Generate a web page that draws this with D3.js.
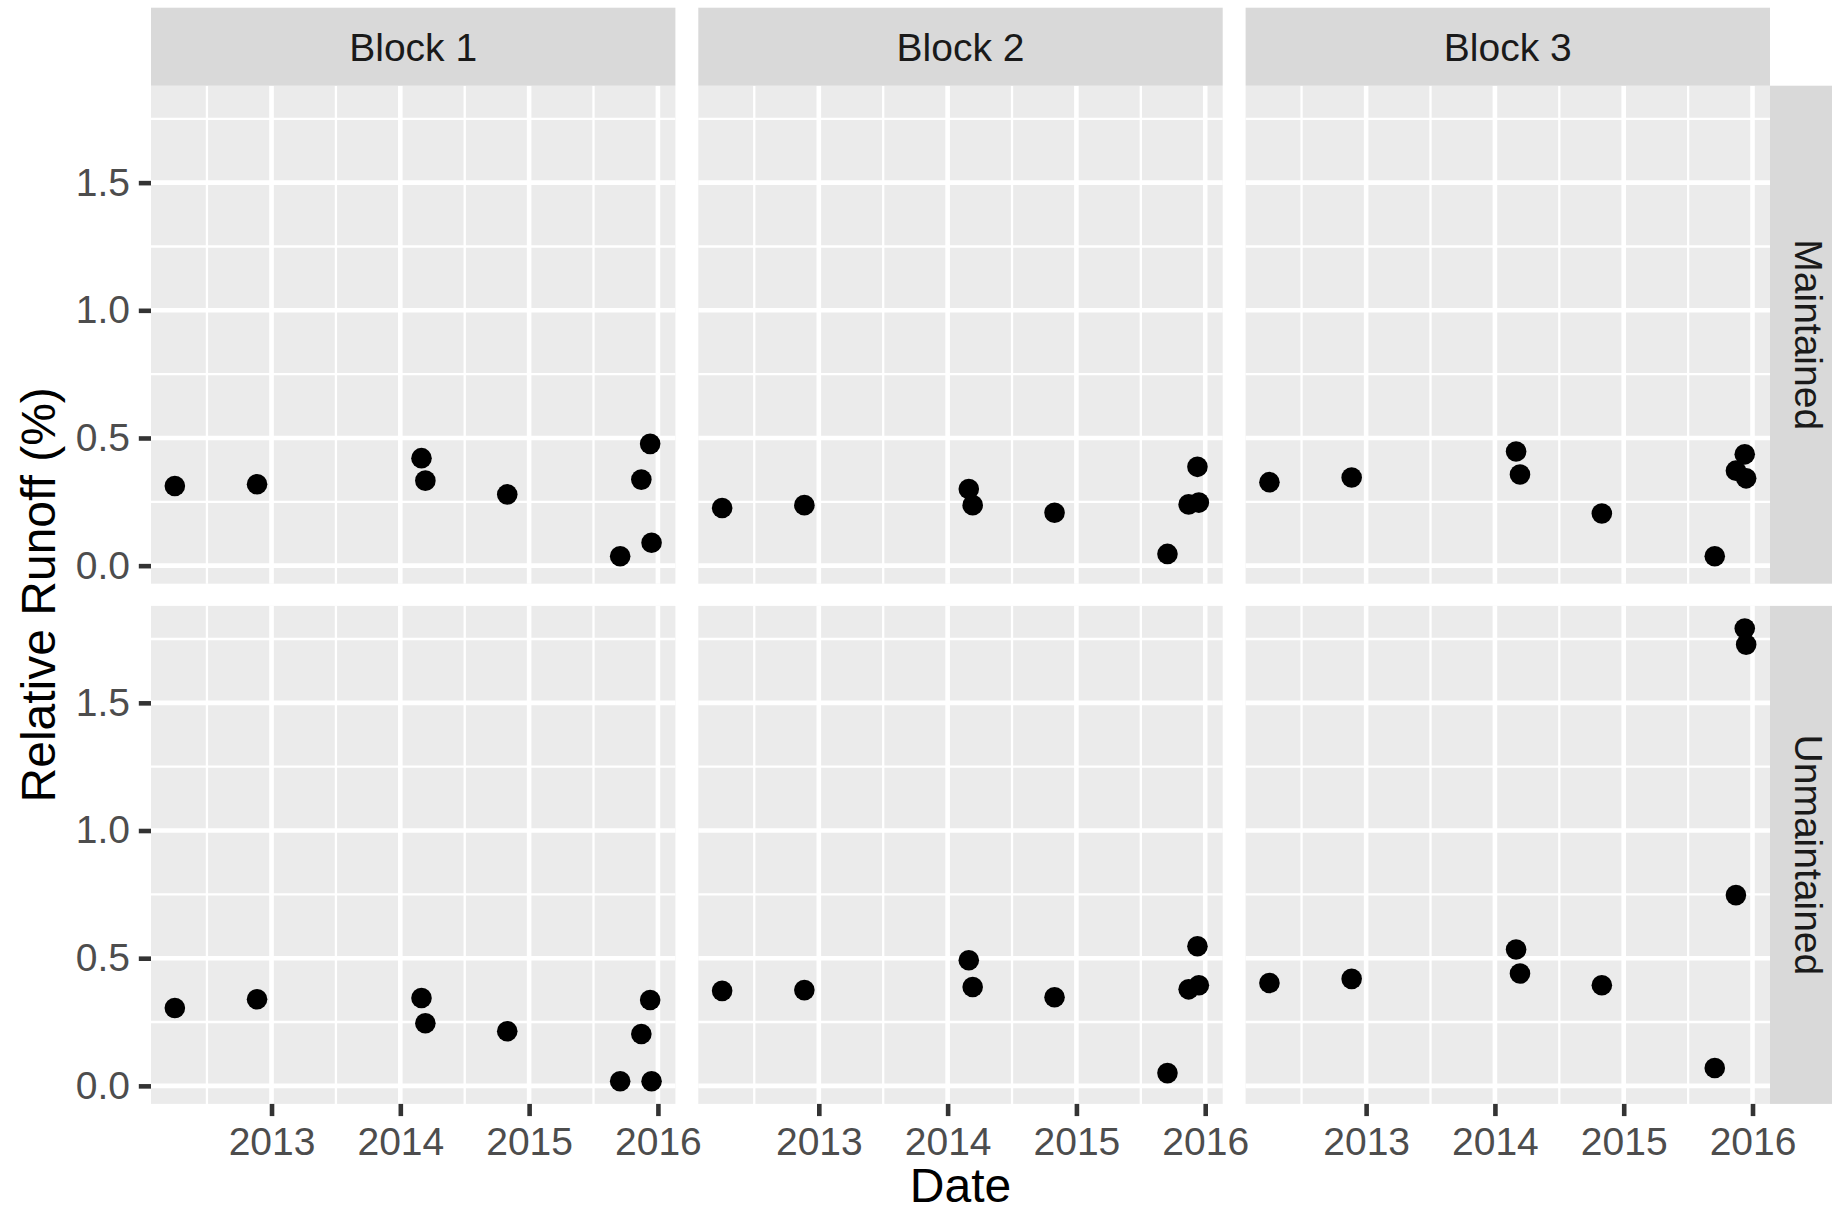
<!DOCTYPE html>
<html>
<head>
<meta charset="utf-8">
<script src="https://cdn.jsdelivr.net/npm/d3@7"></script>
<style>
  html, body { margin: 0; padding: 0; background: #ffffff; }
  svg { display: block; font-family: "Liberation Sans", Arial, Helvetica, sans-serif; }
</style>
</head>
<body>
<svg id="chart" width="1832" height="1213"></svg>
<script>
// Sampling dates shared by every panel
const sampleDates = ["2012-04-02", "2012-11-21", "2014-03-02", "2014-03-13", "2014-10-31",
                     "2015-09-16", "2015-11-15", "2015-12-10", "2015-12-14"];

// Facet labels
const blocks = ["Block 1", "Block 2", "Block 3"];
const treatments = ["Maintained", "Unmaintained"];

// Relative runoff (%) per block and treatment, one value per sampling date
const maintainedBlock1   = [0.312, 0.319, 0.421, 0.333, 0.279, 0.037, 0.337, 0.477, 0.090];
const maintainedBlock2   = [0.226, 0.237, 0.300, 0.237, 0.207, 0.046, 0.240, 0.387, 0.247];
const maintainedBlock3   = [0.327, 0.345, 0.447, 0.357, 0.204, 0.037, 0.372, 0.436, 0.342];
const unmaintainedBlock1 = [0.305, 0.339, 0.344, 0.245, 0.214, 0.018, 0.203, 0.336, 0.018];
const unmaintainedBlock2 = [0.372, 0.375, 0.492, 0.387, 0.347, 0.050, 0.378, 0.547, 0.394];
const unmaintainedBlock3 = [0.403, 0.419, 0.534, 0.440, 0.394, 0.070, 0.747, 1.791, 1.728];

// Axis tick values
const yBreaks = [0, 0.5, 1.0, 1.5];
const yMinorBreaks = [0.25, 0.75, 1.25, 1.75];
const yTickLabels = ["0.0", "0.5", "1.0", "1.5"];

const seriesGrid = [
  [maintainedBlock1, maintainedBlock2, maintainedBlock3],
  [unmaintainedBlock1, unmaintainedBlock2, unmaintainedBlock3]
];

// ---- layout ----
const panelW = 524.4, panelH = 498;
const colX = [151, 151 + panelW + 22.9, 151 + 2 * (panelW + 22.9)];
const rowY = [85.7, 605.9];
const stripH = 78;
const stripW = 78;
const tickLen = 12.2;
const fontTick = 39, fontTitle = 48;

const parse = d3.utcParse("%Y-%m-%d");
const dates = sampleDates.map(parse);

// ---- scales (shared across panels, 5% expansion around the data range) ----
const tExt = d3.extent(dates);
const tPad = (tExt[1] - tExt[0]) * 0.05;
const x = d3.scaleUtc()
  .domain([new Date(+tExt[0] - tPad), new Date(+tExt[1] + tPad)])
  .range([0, panelW]);

const allVals = seriesGrid.flat(2);
const yExt = d3.extent(allVals);
const yPad = (yExt[1] - yExt[0]) * 0.05;
const y = d3.scaleLinear()
  .domain([yExt[0] - yPad, yExt[1] + yPad])
  .range([panelH, 0]);

// Year breaks and mid-year minor breaks
const years = d3.utcYear.range(d3.utcYear.floor(x.domain()[0]), d3.utcYear.offset(d3.utcYear.ceil(x.domain()[1]), 1));
const xBreaks = years.filter(d => d >= x.domain()[0] && d <= x.domain()[1]);
const xMinorBreaks = d3.pairs(years)
  .map(([a, b]) => new Date((+a + +b) / 2))
  .filter(d => d >= x.domain()[0] && d <= x.domain()[1]);

const svg = d3.select("#chart");
svg.append("rect").attr("width", 1832).attr("height", 1213).attr("fill", "#ffffff");

treatments.forEach((trt, r) => {
  blocks.forEach((blk, c) => {
    const g = svg.append("g").attr("transform", `translate(${colX[c]},${rowY[r]})`);

    // panel background
    g.append("rect").attr("width", panelW).attr("height", panelH).attr("fill", "#EBEBEB");

    // minor grid
    g.selectAll(".ymin").data(yMinorBreaks.filter(v => v >= y.domain()[0] && v <= y.domain()[1]))
      .join("line")
      .attr("x1", 0).attr("x2", panelW)
      .attr("y1", d => y(d)).attr("y2", d => y(d))
      .attr("stroke", "#ffffff").attr("stroke-width", 2.3);
    g.selectAll(".xmin").data(xMinorBreaks)
      .join("line")
      .attr("y1", 0).attr("y2", panelH)
      .attr("x1", d => x(d)).attr("x2", d => x(d))
      .attr("stroke", "#ffffff").attr("stroke-width", 2.3);

    // major grid
    g.selectAll(".ymaj").data(yBreaks)
      .join("line")
      .attr("x1", 0).attr("x2", panelW)
      .attr("y1", d => y(d)).attr("y2", d => y(d))
      .attr("stroke", "#ffffff").attr("stroke-width", 4.6);
    g.selectAll(".xmaj").data(xBreaks)
      .join("line")
      .attr("y1", 0).attr("y2", panelH)
      .attr("x1", d => x(d)).attr("x2", d => x(d))
      .attr("stroke", "#ffffff").attr("stroke-width", 4.6);

    // points
    const vals = seriesGrid[r][c];
    g.selectAll("circle").data(dates.map((d, i) => ({ date: d, value: vals[i] })))
      .join("circle")
      .attr("cx", d => x(d.date))
      .attr("cy", d => y(d.value))
      .attr("r", 10.3)
      .attr("fill", "#000000");

    // left axis on first column
    if (c === 0) {
      const ax = g.append("g").call(
        d3.axisLeft(y).tickValues(yBreaks).tickFormat((d, i) => yTickLabels[i])
          .tickSize(tickLen).tickSizeOuter(0).tickPadding(8.8)
      );
      ax.select(".domain").remove();
      ax.selectAll(".tick line").attr("stroke", "#333333").attr("stroke-width", 4.6);
      ax.selectAll(".tick text").attr("fill", "#4D4D4D").attr("font-size", fontTick)
        .attr("font-family", "Liberation Sans, Arial, sans-serif");
    }

    // bottom axis on the last row
    if (r === treatments.length - 1) {
      const ax = g.append("g").attr("transform", `translate(0,${panelH})`).call(
        d3.axisBottom(x).tickValues(xBreaks).tickFormat(d3.utcFormat("%Y"))
          .tickSize(tickLen).tickSizeOuter(0).tickPadding(10.8)
      );
      ax.select(".domain").remove();
      ax.selectAll(".tick line").attr("stroke", "#333333").attr("stroke-width", 4.6);
      ax.selectAll(".tick text").attr("fill", "#4D4D4D").attr("font-size", fontTick)
        .attr("font-family", "Liberation Sans, Arial, sans-serif");
    }

    // top strips
    if (r === 0) {
      svg.append("rect")
        .attr("x", colX[c]).attr("y", rowY[0] - stripH)
        .attr("width", panelW).attr("height", stripH)
        .attr("fill", "#D9D9D9");
      svg.append("text")
        .attr("x", colX[c] + panelW / 2).attr("y", rowY[0] - stripH / 2 + 0.355 * fontTick)
        .attr("text-anchor", "middle")
        .attr("font-size", fontTick).attr("fill", "#1A1A1A")
        .text(blk);
    }
  });

  // right strips
  const sx = colX[2] + panelW;
  svg.append("rect")
    .attr("x", sx).attr("y", rowY[r])
    .attr("width", stripW).attr("height", panelH)
    .attr("fill", "#D9D9D9");
  svg.append("text")
    .attr("transform", `translate(${sx + stripW / 2 - 0.355 * fontTick},${rowY[r] + panelH / 2}) rotate(90)`)
    .attr("text-anchor", "middle")
    .attr("font-size", fontTick).attr("fill", "#1A1A1A")
    .text(trt);
});

// axis titles
svg.append("text")
  .attr("x", (colX[0] + colX[2] + panelW) / 2).attr("y", 1202)
  .attr("text-anchor", "middle")
  .attr("font-size", fontTitle).attr("fill", "#000000")
  .text("Date");

svg.append("text")
  .attr("transform", `translate(55,${(rowY[0] + rowY[1] + panelH) / 2}) rotate(-90)`)
  .attr("text-anchor", "middle")
  .attr("font-size", fontTitle).attr("fill", "#000000")
  .text("Relative Runoff (%)");
</script>
</body>
</html>
